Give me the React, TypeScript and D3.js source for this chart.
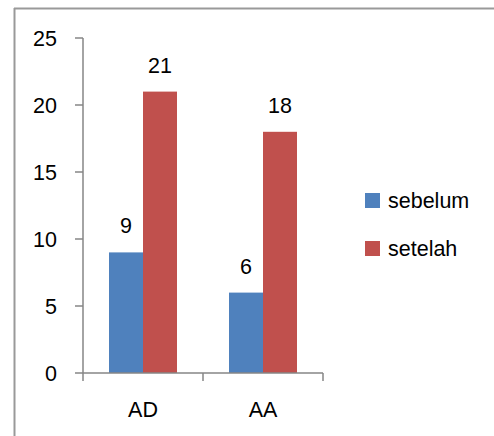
import React from "react";
import * as d3 from "d3";

const categories = ["AD", "AA"];
const seriesNames = ["sebelum", "setelah"];
const sebelum = [9, 6];
const setelah = [21, 18];
const yTicks = [0, 5, 10, 15, 20, 25];
const colors = ["#4F81BD", "#C0504D"];

export default function App() {
  const W = 494, H = 436;
  const x0 = 83, x1 = 323, yTop = 38, yBot = 373;
  const y = d3.scaleLinear().domain([0, 25]).range([yBot, yTop]);
  const xb = d3.scaleBand().domain(categories).range([x0, x1]);
  const inner = d3.scaleBand().domain(seriesNames).range([0, 68]);
  const values = [sebelum, setelah];
  const font = "'Liberation Sans', Arial, sans-serif";
  const fs = 21.5;
  const axisColor = "#868686";
  return (
    <svg width={W} height={H} style={{ position: "absolute", left: 0, top: 0, background: "#fff" }} fontFamily={font}>
      <line x1={14} y1={8.5} x2={W} y2={8.5} stroke="#999" strokeWidth={2} />
      <line x1={14.5} y1={8} x2={14.5} y2={H} stroke="#999" strokeWidth={2} />
      {/* y axis */}
      <line x1={x0} y1={yTop} x2={x0} y2={yBot} stroke={axisColor} strokeWidth={1.5} />
      {yTicks.map((t) => (
        <g key={t}>
          <line x1={x0 - 8} x2={x0} y1={y(t)} y2={y(t)} stroke={axisColor} strokeWidth={1.5} />
          <text x={57} y={y(t) + 8} textAnchor="end" fontSize={fs} fill="#000">{t}</text>
        </g>
      ))}
      {/* bars */}
      {categories.map((c, ci) => (
        <g key={c}>
          {seriesNames.map((s, si) => {
            const bx = (xb(c) as number) + (xb.bandwidth() - 68) / 2 + (inner(s) as number);
            const v = values[si][ci];
            return (
              <g key={s}>
                <rect x={bx} y={y(v)} width={inner.bandwidth()} height={yBot - y(v)} fill={colors[si]} />
                <text x={bx + inner.bandwidth() / 2} y={y(v) - 19} textAnchor="middle" fontSize={fs} fill="#000">{v}</text>
              </g>
            );
          })}
          <text x={(xb(c) as number) + xb.bandwidth() / 2} y={417} textAnchor="middle" fontSize={fs} fill="#000">{c}</text>
        </g>
      ))}
      {/* x axis */}
      <line x1={x0} y1={yBot} x2={x1} y2={yBot} stroke={axisColor} strokeWidth={1.5} />
      {[x0, ...categories.map((c) => (xb(c) as number) + xb.bandwidth())].map((tx, i) => (
        <line key={i} x1={tx} x2={tx} y1={yBot} y2={yBot + 8} stroke={axisColor} strokeWidth={1.5} />
      ))}
      {/* legend */}
      {seriesNames.map((s, i) => (
        <g key={s}>
          <rect x={365} y={193 + i * 48} width={15} height={15} fill={colors[i]} />
          <text x={388} y={208 + i * 48} fontSize={fs} fill="#000">{s}</text>
        </g>
      ))}
    </svg>
  );
}
